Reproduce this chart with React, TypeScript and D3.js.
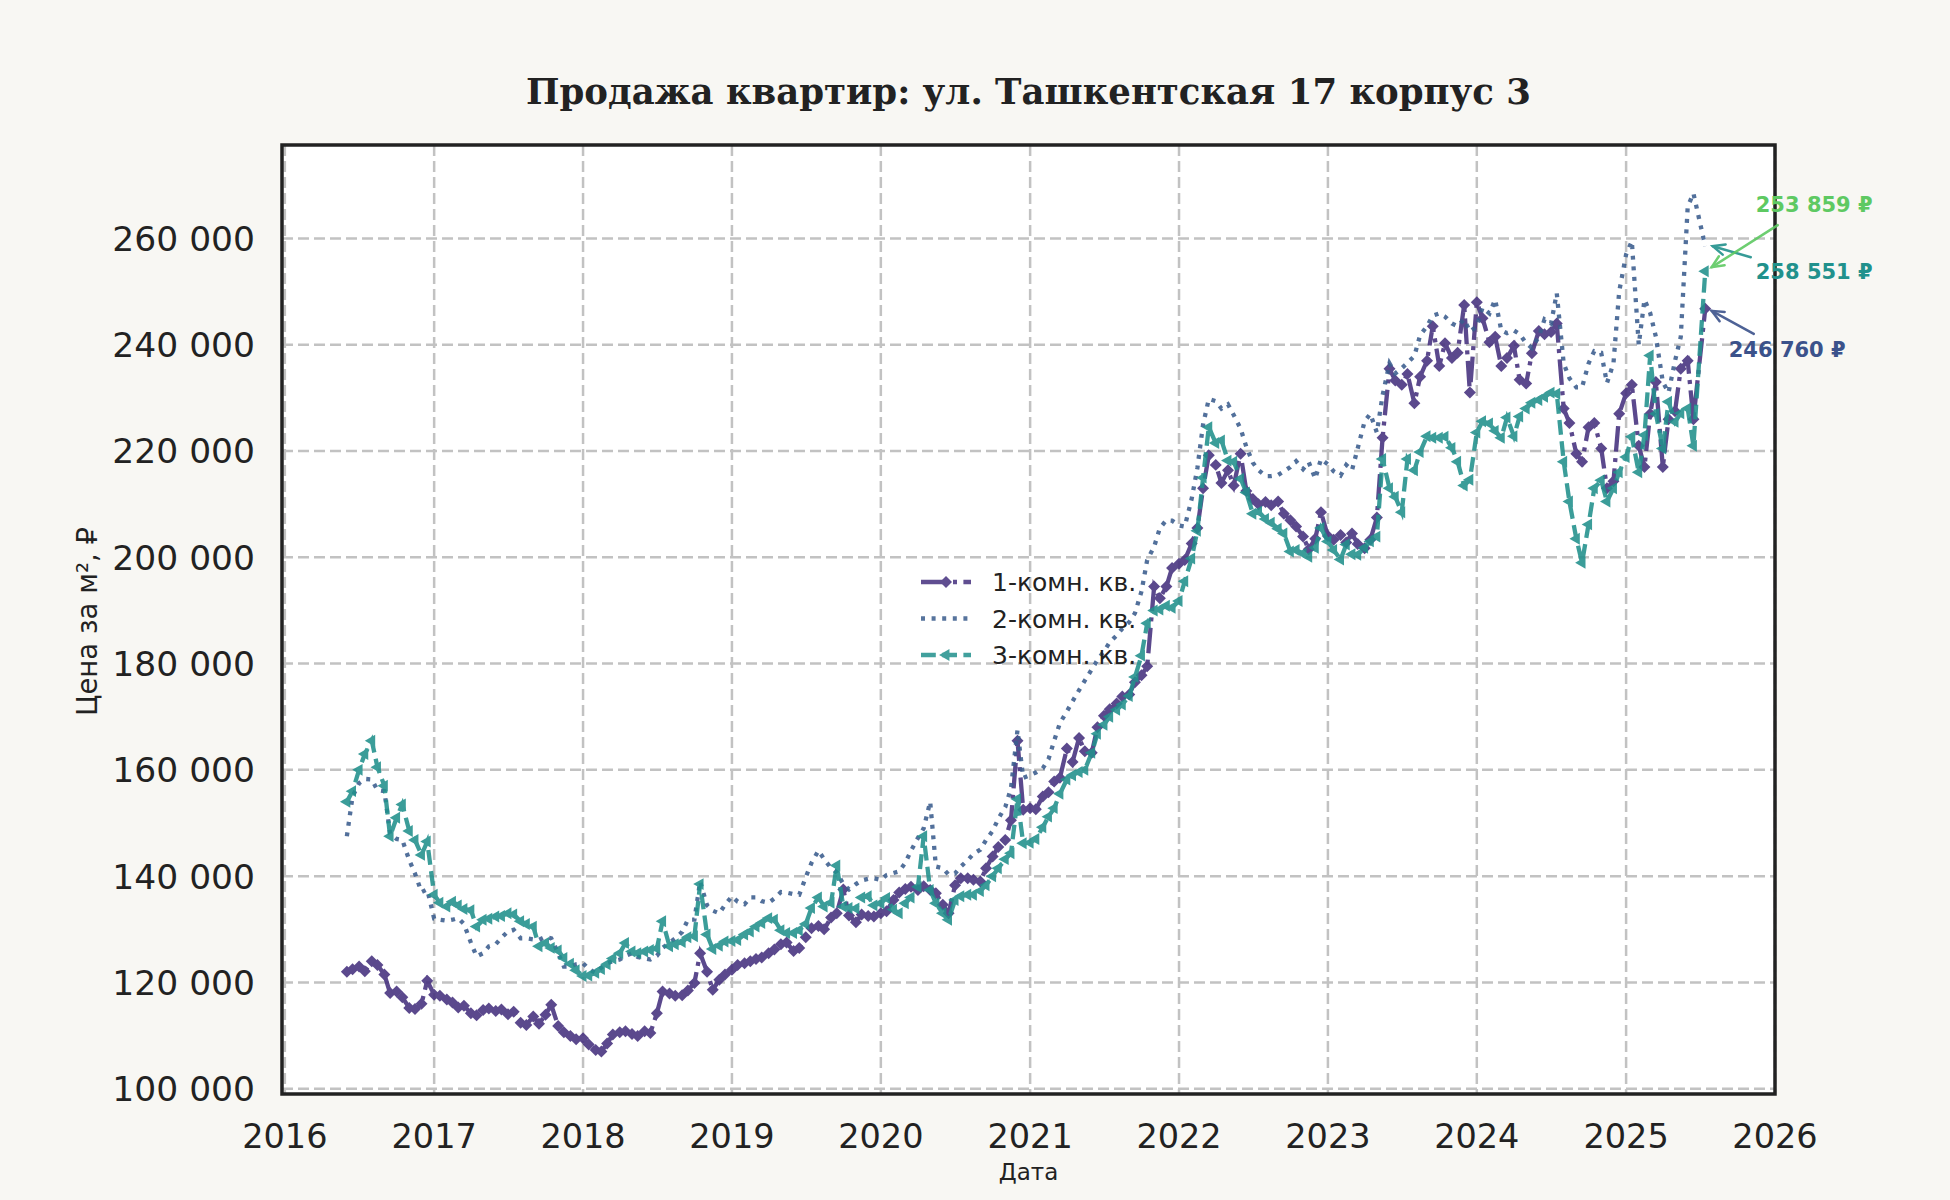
import React, { useEffect, useRef } from 'react';
import * as d3 from 'd3';

// Цена за м² по полумесяцам (1-е и 15-е число), тыс. ₽; строка = год, 2016 с июня
const ONE_ROOM: number[][] = [
  [122, 122.5, 123, 122.1, 124, 123.3, 121.5, 118, 118.3, 117.2, 115.2, 115, 116, 120.3],
  [117.7, 117.5, 116.8, 116.2, 115.3, 115.6, 114.2, 113.8, 114.8, 115.1, 114.6, 114.9, 114, 114.5, 112.4, 112, 113.6, 112.2, 113.9, 115.8, 111.8, 110.6, 109.9, 109.3],
  [109.5, 108.3, 107.3, 107, 108.5, 110.2, 110.6, 110.8, 110.3, 109.9, 110.8, 110.5, 114.2, 118.3, 117.9, 117.5, 117.6, 118.5, 119.9, 125.5, 122, 118.6, 120.5, 121.5],
  [122.4, 123.3, 123.6, 124, 124.4, 124.7, 125.5, 126.2, 127.2, 127.5, 125.9, 126.5, 128.5, 130.2, 130.6, 130, 132.2, 133, 137.5, 132.6, 131.3, 132.8, 132.5, 132.4],
  [133, 133.4, 135.5, 136.9, 137.6, 138, 137.4, 138.1, 137.4, 136.8, 134.6, 133, 138.3, 139.6, 139.6, 139.3, 139, 141.5, 143.7, 145.5, 146.8, 150.5, 165.5, 152.5],
  [152.8, 152.6, 155, 155.8, 157.8, 158.5, 164, 161.5, 166, 163.5, 163.2, 168, 170.2, 171.4, 172.5, 173.8, 174.2, 176.5, 177.8, 179.5, 194.5, 192.3, 194.5, 198],
  [198.8, 199.5, 202.6, 205.5, 213, 219.2, 217.4, 214, 216.4, 213.5, 219.5, 212.5, 211, 210, 210.4, 209.8, 210.5, 208.2, 207, 205.8, 203.9, 201.5, 203.5, 208.5],
  [204, 203.3, 204.2, 202.8, 204.5, 202.5, 201.7, 203.3, 207.5, 222.5, 235.5, 233.3, 232.5, 234.5, 229, 234, 237, 243.5, 236, 240.3, 237.5, 238.5, 247.5, 231],
  [248, 245, 240.5, 241.5, 236, 237.5, 239.8, 233.4, 232.7, 238.4, 242.6, 242, 242.4, 244, 228, 225.3, 219.5, 218, 224.5, 225.3, 220.5, 213, 214.3, 227],
  [230.9, 232.5, 221, 217, 227, 233, 217, 226, 227.5, 235.5, 237, 226, 246.76],
];

const TWO_ROOM: number[][] = [
  [147.5, 155, 157.5, 158.3, 158.2, 156.2, 156, 148, 147, 146.8, 143, 140.5, 137, 137.5],
  [132, 131.8, 131.6, 131.8, 132.1, 131, 127.5, 124.9, 125.5, 126.8, 127.2, 128.4, 129.6, 129.9, 128.3, 128.3, 128.1, 128, 128.6, 128.3, 125.5, 123, 123, 123.4],
  [123.6, 122.5, 121.8, 122.8, 123.6, 124, 124.3, 125, 125.5, 124.8, 124.5, 124.3, 125, 126.5, 127.5, 128.3, 129.5, 131.8, 131.8, 139, 134.5, 133.5, 133, 134.6],
  [136.2, 135.2, 134.7, 136, 136, 135.3, 135, 135.8, 137, 136.9, 136.6, 136.5, 139.8, 142.5, 144.8, 143.2, 141.5, 140.7, 138.5, 137.5, 138.5, 139.2, 139.5, 139.6],
  [139.3, 140.2, 140.6, 140.9, 142.5, 144.8, 147.2, 149, 154, 141.8, 141.5, 140.3, 140.5, 141.8, 143, 144.2, 145, 146.8, 148.5, 150.8, 153, 156.5, 167.5, 158.5],
  [159, 159.5, 160.3, 162, 165.5, 168.8, 171, 172.9, 175, 176.8, 178.9, 180.7, 182.3, 184, 185.3, 186.6, 187.8, 189.5, 193.6, 199.5, 202, 205.5, 207, 206.9],
  [206, 205.8, 211, 216.8, 225, 229.8, 229.4, 228, 228.8, 226.8, 224.2, 220.8, 217.8, 216.4, 215.3, 215.3, 215.5, 216.2, 217, 218.1, 216.6, 217.9, 214.8, 218.5],
  [217.5, 216.2, 215.4, 217.4, 216.4, 220.5, 225.6, 227, 223.5, 230.5, 236.5, 234.6, 235.6, 236.6, 237.9, 241.8, 243.5, 245.5, 245.9, 245.3, 244, 243.5, 244.8, 242.5],
  [243.4, 247, 245.9, 248.5, 242.7, 242.2, 242.7, 242, 240.3, 239.4, 241.5, 244.8, 244, 249.7, 236.5, 233.7, 232, 232, 236.5, 238.8, 238.5, 232.8, 236.5, 250],
  [257, 259.5, 240, 248.5, 246, 241.5, 233, 231, 237, 241.5, 266, 268.5, 258.551],
];

const THREE_ROOM: number[][] = [
  [154, 156, 160, 163, 165.5, 160.5, 157, 147.5, 151, 153.5, 148.5, 146.8, 144, 146.5],
  [136.5, 135, 134.3, 135.2, 134.5, 133.8, 133.6, 130.5, 131.8, 132, 132.4, 132.5, 133, 132.8, 131.5, 131, 130.5, 126.8, 127.4, 126.5, 126, 124.6, 123.5, 122.3],
  [121.2, 121.3, 121.8, 122.5, 123.4, 124.5, 125.5, 127.4, 125.8, 125.5, 125.8, 126.1, 126.4, 131.5, 126.8, 127.2, 127.6, 128.5, 128.7, 138.5, 129, 126.3, 126.9, 127.7],
  [127.8, 128, 129, 129.6, 130.5, 131.2, 132.1, 131.8, 129.8, 129.3, 129.3, 129.8, 131, 134, 136, 134.3, 135, 142, 134.3, 134, 133.9, 136, 136.2, 134.5],
  [134.9, 135.9, 133.7, 133, 134.9, 136, 138, 147.5, 137.4, 134.9, 133, 131.8, 135.5, 136.2, 136.5, 136.5, 137.2, 138.3, 140, 141.5, 143.2, 144.3, 154.5, 146.2],
  [146.3, 147, 149.2, 151.2, 152.8, 155.5, 158.2, 159, 159.6, 160, 163.2, 166.8, 168.5, 170, 171.3, 172.3, 173.9, 177.5, 181.5, 187.6, 190, 190.2, 190.9, 190.5],
  [191.8, 195.5, 199.8, 205, 215, 224.5, 221.5, 222, 218.2, 218, 214.8, 212.2, 208.2, 208.6, 207.2, 206.5, 205.4, 204.5, 201.1, 201.4, 200.7, 200.1, 201.8, 205.5],
  [203, 201.4, 199.6, 202.4, 200.6, 200.5, 201.8, 203, 203.9, 218.5, 213, 211.4, 208.5, 218.5, 216.4, 219.8, 222.8, 222.5, 222.5, 222.7, 220.6, 218, 213.5, 214.6],
  [223.5, 225.6, 225.2, 223.8, 222.5, 226.3, 222.8, 226.5, 228, 229.1, 229.6, 230.2, 231, 230.8, 218, 210.5, 203.5, 199, 206.2, 213, 214.5, 210.5, 213, 216],
  [218.9, 222.7, 216, 223, 238, 227, 220.5, 229.3, 225.5, 227.1, 228, 221, 253.859],
];

const SERIES_NAMES = ['1-комн. кв.', '2-комн. кв.', '3-комн. кв.'];
const SAMPLE_DAYS = [1, 15];
const FIRST_MONTH = new Date(Date.UTC(2016, 5, 1));
const END_MONTH = new Date(Date.UTC(2025, 6, 1));
const LAST_DATE = new Date(Date.UTC(2025, 6, 14));
const YEARS = d3.range(2016, 2027);
const Y_TICKS = d3.range(100000, 260001, 20000);
const X_DOMAIN = [new Date(Date.UTC(2015, 11, 25)), new Date(Date.UTC(2026, 0, 1))];
const Y_DOMAIN = [99000, 277600];

const TITLE = 'Продажа квартир: ул. Ташкентская 17 корпус 3';
const X_LABEL = 'Дата';
const Y_LABEL = 'Цена за м², ₽';

const WIDTH = 1950;
const HEIGHT = 1200;
const MARGIN = { top: 145, right: 175, bottom: 106, left: 282 };
const SANS = '"DejaVu Sans", sans-serif';
const SERIF = '"DejaVu Serif", serif';
const INK = '#222222';

const LINE_COLORS = ['#45307e', '#3a5c8d', '#21908c'];
const NOTE_COLORS = ['#3b528b', '#21918c', '#5ec962'];
const DASHES = ['25.6,6.4,4,6.4', '4,6.6', '14.8,6.4'];
// смещения подписей последних значений, px от точки
const NOTES = [
  { tip: [6.5, 2], from: [48.5, 25], text: [23.5, 48] },
  { tip: [7.5, 0], from: [45.5, 11], text: [50.5, 33] },
  { tip: [6.5, -4], from: [72.5, -46], text: [50.5, -59] },
];

const fmt = (v: number) => d3.format(',.0f')(v).replace(/,/g, ' ');

const App: React.FC = () => {
  const svgRef = useRef<SVGSVGElement>(null);

  useEffect(() => {
    if (!svgRef.current) return;
    const svg = d3.select(svgRef.current);
    svg.selectAll('*').remove();

    const left = MARGIN.left;
    const right = WIDTH - MARGIN.right;
    const top = MARGIN.top;
    const bottom = HEIGHT - MARGIN.bottom;

    const x = d3.scaleUtc().domain(X_DOMAIN).range([left, right]);
    const y = d3.scaleLinear().domain(Y_DOMAIN).range([bottom, top]);

    const dates: Date[] = d3.utcMonth.range(FIRST_MONTH, END_MONTH)
      .flatMap(m => SAMPLE_DAYS.map(d => new Date(Date.UTC(m.getUTCFullYear(), m.getUTCMonth(), d))));
    dates.push(LAST_DATE);

    const series = [ONE_ROOM, TWO_ROOM, THREE_ROOM].map((rows, i) => {
      const vals = rows.flat();
      const pts = vals.slice(0, dates.length).map((v, j) => ({ date: dates[j], value: v * 1000 }));
      return { name: SERIES_NAMES[i], pts };
    });

    svg.append('rect').attr('width', WIDTH).attr('height', HEIGHT).attr('fill', '#f8f7f3');
    svg.append('rect')
      .attr('x', left).attr('y', top)
      .attr('width', right - left).attr('height', bottom - top)
      .attr('fill', '#ffffff');

    // grid
    const grid = svg.append('g')
      .attr('stroke', '#c2c2c2').attr('stroke-width', 2.5).attr('stroke-dasharray', '11,5');
    grid.selectAll('line.v')
      .data(YEARS)
      .join('line')
      .attr('x1', d => x(new Date(Date.UTC(d, 0, 1)))).attr('x2', d => x(new Date(Date.UTC(d, 0, 1))))
      .attr('y1', top).attr('y2', bottom);
    grid.selectAll('line.h')
      .data(Y_TICKS)
      .join('line')
      .attr('x1', left).attr('x2', right)
      .attr('y1', d => y(d)).attr('y2', d => y(d));

    const line = d3.line<{ date: Date; value: number }>()
      .x(d => x(d.date))
      .y(d => y(d.value));

    const diamond = d3.symbol().type(d3.symbolSquare).size(72)();
    const triangle = d3.symbol().type(d3.symbolTriangle).size(62)();

    series.forEach((s, i) => {
      const g = svg.append('g').attr('opacity', 0.88);
      g.append('path')
        .datum(s.pts)
        .attr('d', line)
        .attr('fill', 'none')
        .attr('stroke', LINE_COLORS[i])
        .attr('stroke-width', 4.3)
        .attr('stroke-dasharray', DASHES[i]);
      if (i === 0 || i === 2) {
        g.selectAll('path.m')
          .data(s.pts)
          .join('path')
          .attr('d', i === 0 ? diamond : triangle)
          .attr('transform', d => `translate(${x(d.date)},${y(d.value)}) rotate(${i === 0 ? 45 : -90})`)
          .attr('fill', LINE_COLORS[i]);
      }
    });

    // frame
    svg.append('rect')
      .attr('x', left).attr('y', top)
      .attr('width', right - left).attr('height', bottom - top)
      .attr('fill', 'none').attr('stroke', INK).attr('stroke-width', 3.5);

    // ticks
    svg.append('g').selectAll('text')
      .data(YEARS)
      .join('text')
      .attr('x', d => x(new Date(Date.UTC(d, 0, 1))))
      .attr('y', 1148)
      .attr('text-anchor', 'middle')
      .attr('font-family', SANS).attr('font-size', 33.5).attr('fill', INK)
      .text(d => d);
    svg.append('g').selectAll('text')
      .data(Y_TICKS)
      .join('text')
      .attr('x', 255)
      .attr('y', d => y(d))
      .attr('dy', '0.36em')
      .attr('text-anchor', 'end')
      .attr('font-family', SANS).attr('font-size', 34.5).attr('fill', INK)
      .text(d => fmt(d));

    svg.append('text')
      .attr('x', (left + right) / 2).attr('y', 104)
      .attr('text-anchor', 'middle')
      .attr('font-family', SERIF).attr('font-weight', 'bold').attr('font-size', 35.5).attr('fill', INK)
      .text(TITLE);
    svg.append('text')
      .attr('x', (left + right) / 2).attr('y', 1180)
      .attr('text-anchor', 'middle')
      .attr('font-family', SANS).attr('font-size', 23).attr('fill', INK)
      .text(X_LABEL);
    svg.append('text')
      .attr('transform', `translate(97,${(top + bottom) / 2 + 2}) rotate(-90)`)
      .attr('text-anchor', 'middle')
      .attr('font-family', SANS).attr('font-size', 27.5).attr('fill', INK)
      .text(Y_LABEL);

    // legend
    const legend = svg.append('g');
    series.forEach((s, i) => {
      const ly = 582 + i * 36.5;
      const g = legend.append('g').attr('opacity', 0.85);
      g.append('line')
        .attr('x1', 921).attr('x2', 971).attr('y1', ly).attr('y2', ly)
        .attr('stroke', LINE_COLORS[i]).attr('stroke-width', 4.3)
        .attr('stroke-dasharray', DASHES[i]);
      if (i === 0 || i === 2) {
        g.append('path')
          .attr('d', i === 0 ? diamond : triangle)
          .attr('transform', `translate(946,${ly}) rotate(${i === 0 ? 45 : -90})`)
          .attr('fill', LINE_COLORS[i]);
      }
      legend.append('text')
        .attr('x', 992).attr('y', ly).attr('dy', '0.36em')
        .attr('font-family', SANS).attr('font-size', 25).attr('fill', INK)
        .text(s.name);
    });

    // last value notes
    series.forEach((s, i) => {
      const last = s.pts[s.pts.length - 1];
      const px = x(last.date);
      const py = y(last.value);
      const n = NOTES[i];
      const tx = px + n.tip[0], ty = py + n.tip[1];
      const fx = px + n.from[0], fy = py + n.from[1];
      const ang = Math.atan2(ty - fy, tx - fx);
      const hl = 13, spread = 0.42;
      const g = svg.append('g')
        .attr('stroke', NOTE_COLORS[i]).attr('stroke-width', 2.5).attr('fill', 'none')
        .attr('stroke-linecap', 'round').attr('opacity', 0.9);
      g.append('line').attr('x1', fx).attr('y1', fy).attr('x2', tx).attr('y2', ty);
      g.append('path')
        .attr('d', `M${tx - hl * Math.cos(ang - spread)},${ty - hl * Math.sin(ang - spread)}L${tx},${ty}L${tx - hl * Math.cos(ang + spread)},${ty - hl * Math.sin(ang + spread)}`);
      svg.append('text')
        .attr('x', px + n.text[0]).attr('y', py + n.text[1])
        .attr('font-family', SANS).attr('font-weight', 'bold').attr('font-size', 21)
        .attr('fill', NOTE_COLORS[i])
        .text(`${fmt(last.value)} ₽`);
    });
  }, []);

  return (
    <div style={{ position: 'absolute', left: 0, top: 0 }}>
      <svg ref={svgRef} width={WIDTH} height={HEIGHT} />
    </div>
  );
};

export default App;
